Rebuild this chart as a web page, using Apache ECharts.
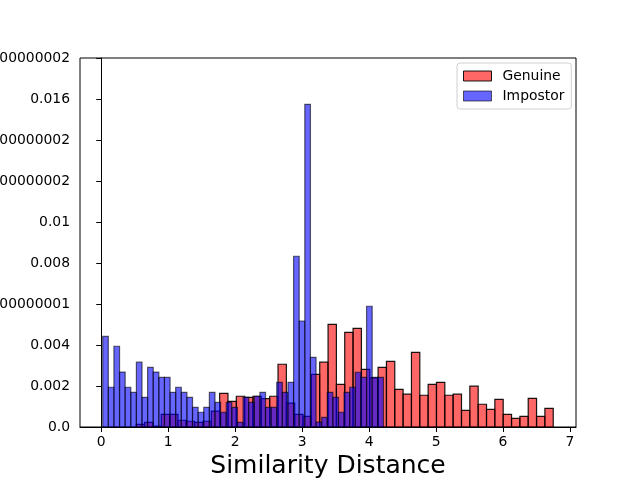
<!DOCTYPE html>
<html>
<head>
<meta charset="utf-8">
<script src="https://cdn.jsdelivr.net/npm/echarts@6/dist/echarts.min.js"></script>
<style>html,body{margin:0;padding:0;background:#fff}#c{width:640px;height:480px}</style>
</head>
<body>
<div id="c"></div>
<script>
// Genuine histogram: 50 bins
const genuineStart = 0.523;
const genuineBinWidth = 0.12454;
const genuineValues = [
  0.00013, 0.00023, 0.00004, 0.00062, 0.00062, 0.00033, 0.00028, 0.00023, 0.00028, 0.00077,
  0.00164, 0.00125, 0.00150, 0.00145, 0.00150, 0.00138, 0.00150, 0.00306, 0.00116, 0.00062,
  0.00052, 0.00257, 0.00316, 0.00501, 0.00208, 0.00462, 0.00481, 0.00281, 0.00240, 0.00291,
  0.00320, 0.00184, 0.00160, 0.00364, 0.00155, 0.00208, 0.00218, 0.00155, 0.00160, 0.00081,
  0.00199, 0.00111, 0.00086, 0.00135, 0.00062, 0.00042, 0.00052, 0.00140, 0.00052, 0.00091
];
// Impostor histogram: 50 bins
const impostorStart = 0.022;
const impostorBinWidth = 0.08384;
const impostorValues = [
  0.00442, 0.00194, 0.00394, 0.00268, 0.00194, 0.00169, 0.00316, 0.00145, 0.00291, 0.00268,
  0.00242, 0.00242, 0.00169, 0.00194, 0.00169, 0.00145, 0.00096, 0.00072, 0.00096, 0.00169,
  0.00120, 0.00072, 0.00120, 0.00096, 0.00023, 0.00145, 0.00120, 0.00150, 0.00169, 0.00096,
  0.00096, 0.00218, 0.00169, 0.00218, 0.00833, 0.00517, 0.01574, 0.00340, 0.00024, 0.00047,
  0.00169, 0.00145, 0.00072, 0.00169, 0.00194, 0.00267, 0.00242, 0.00589, 0.00242, 0.00242
];
const xTicks = [0, 1, 2, 3, 4, 5, 6, 7];
const yTickLabels = ["0.0", "0.002", "0.004", "0.006000000000000001", "0.008", "0.01",
  "0.012000000000000002", "0.014000000000000002", "0.016", "0.018000000000000002"];
const seriesNames = ["Genuine", "Impostor"];

function toBins(start, w, vals) {
  return vals.map((v, i) => [start + i * w, start + (i + 1) * w, v]);
}
const FONT = "DejaVu Sans";
const colors = {
  Genuine: { fill: "rgba(255,0,0,0.6)", stroke: "rgba(0,0,0,0.9)" },
  Impostor: { fill: "rgba(0,0,255,0.6)", stroke: "rgba(0,0,0,0.6)" }
};
function renderBin(name) {
  return function (params, api) {
    const p0 = api.coord([api.value(0), 0]);
    const p1 = api.coord([api.value(1), api.value(2)]);
    return {
      type: "rect",
      shape: { x: p0[0], y: p1[1], width: p1[0] - p0[0], height: p0[1] - p1[1] },
      style: { fill: colors[name].fill, stroke: colors[name].stroke, lineWidth: 1.2 }
    };
  };
}
const chart = echarts.init(document.getElementById("c"), null, { renderer: "canvas" });
chart.setOption({
  backgroundColor: "#fff",
  animation: false,
  textStyle: { fontFamily: FONT },
  grid: { left: 80, top: 58, width: 496, height: 369, show: true, borderColor: "#000", borderWidth: 1,
    backgroundColor: "transparent", containLabel: false, outerBoundsMode: "none" },
  legend: {
    left: 457, top: 63, orient: "vertical",
    backgroundColor: "#fff", borderColor: "#d0d0d0", borderWidth: 1, borderRadius: 3,
    padding: [6, 7, 6, 6], itemGap: 6, itemWidth: 28, itemHeight: 10, icon: "rect",
    textStyle: { fontFamily: FONT, fontSize: 13.9, color: "#000", padding: [0, 0, 0, 6] },
    data: seriesNames.map(n => ({ name: n, itemStyle: { color: colors[n].fill, borderColor: colors[n].stroke, borderWidth: 1 } }))
  },
  xAxis: {
    type: "value", min: -0.317, max: 7.09,
    name: "Similarity Distance", nameLocation: "middle", nameGap: 26,
    nameTextStyle: { fontFamily: FONT, fontSize: 25, color: "#000" },
    axisLine: { show: true, lineStyle: { color: "#000", width: 1 } },
    axisTick: { show: true, length: 5, lineStyle: { color: "#000" }, customValues: xTicks },
    axisLabel: { customValues: xTicks, margin: 8, fontFamily: FONT, fontSize: 13.9, color: "#000", formatter: v => String(Math.round(v)) },
    splitLine: { show: false }
  },
  yAxis: {
    type: "value", min: 0, max: 0.018, interval: 0.002,
    axisLine: { show: true, lineStyle: { color: "#000", width: 1 } },
    axisTick: { show: true, length: 5, lineStyle: { color: "#000" } },
    axisLabel: { margin: 10, fontFamily: FONT, fontSize: 13.9, color: "#000",
      formatter: v => yTickLabels[Math.round(v / 0.002)] },
    splitLine: { show: false }
  },
  series: [
    { name: "Genuine", type: "custom", renderItem: renderBin("Genuine"),
      itemStyle: { color: colors.Genuine.fill, borderColor: colors.Genuine.stroke },
      encode: { x: [0, 1], y: 2 }, data: toBins(genuineStart, genuineBinWidth, genuineValues), z: 2 },
    { name: "Impostor", type: "custom", renderItem: renderBin("Impostor"),
      itemStyle: { color: colors.Impostor.fill, borderColor: colors.Impostor.stroke },
      encode: { x: [0, 1], y: 2 }, data: toBins(impostorStart, impostorBinWidth, impostorValues), z: 3 }
  ]
});
</script>
</body>
</html>
